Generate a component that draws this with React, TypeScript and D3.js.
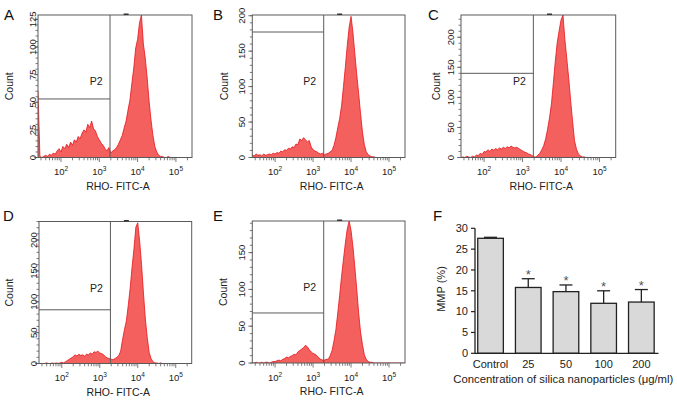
import React from 'react';
import * as d3 from 'd3';

// ---------- DATA ----------
// log10 positions of histogram bins (RHO- FITC-A)
const binLogs: number[] = d3.range(1.4, 5.4001, 0.05);

const histA = [
  60, 1, 0, 1, 2, 1, 3, 2, 4, 3,
  6, 8, 5, 10, 8, 12, 9, 14, 11, 16,
  14, 19, 17, 22, 25, 23, 30, 27, 33, 26,
  24, 19, 16, 13, 11, 8, 6, 9, 4, 6,
  7, 9, 12, 16, 20, 27, 33, 43, 52, 67,
  81, 99, 107, 122, 129, 103, 90, 72, 51, 34,
  20, 10, 5, 2, 1, 1, 0, 0, 1, 0,
  0, 0, 0, 0, 0, 0, 0, 0, 0, 0,
  0,
];
const histB = [
  4, 2, 5, 3, 4, 2, 5, 3, 4, 5,
  4, 6, 5, 7, 6, 9, 8, 11, 10, 13,
  12, 15, 14, 19, 18, 26, 24, 28, 25, 22,
  24, 15, 11, 9, 8, 6, 5, 6, 4, 5,
  6, 8, 10, 17, 28, 42, 55, 73, 100, 128,
  158, 184, 199, 176, 146, 117, 90, 62, 36, 18,
  8, 4, 2, 1, 1, 0, 0, 0, 0, 0,
  0, 0, 0, 0, 0, 0, 0, 0, 0, 0,
  0,
];
const histC = [
  0, 1, 0, 2, 1, 0, 2, 1, 4, 3,
  7, 5, 10, 9, 13, 10, 14, 12, 15, 13,
  16, 14, 17, 15, 18, 16, 19, 17, 16, 17,
  15, 13, 11, 9, 8, 6, 5, 3, 1, 1,
  4, 7, 13, 20, 31, 47, 66, 89, 124, 160,
  191, 211, 229, 237, 196, 164, 131, 94, 60, 28,
  14, 6, 3, 1, 1, 0, 0, 0, 0, 0,
  0, 0, 0, 0, 0, 0, 0, 0, 0, 0,
  0,
];
const histD = [
  0, 0, 0, 0, 1, 0, 0, 1, 0, 1,
  0, 1, 2, 1, 3, 5, 7, 9, 11, 14,
  12, 15, 13, 14, 12, 15, 14, 17, 15, 19,
  18, 20, 17, 16, 14, 11, 9, 8, 7, 6,
  8, 10, 13, 20, 39, 55, 69, 94, 122, 156,
  186, 221, 228, 198, 160, 114, 72, 42, 18, 8,
  3, 1, 1, 0, 1, 0, 0, 0, 0, 0,
  0, 0, 0, 0, 0, 0, 0, 0, 0, 0,
  0,
];
const histE = [
  0, 0, 1, 0, 0, 1, 0, 1, 1, 0,
  1, 2, 2, 3, 4, 3, 5, 6, 8, 7,
  9, 10, 12, 11, 15, 17, 19, 21, 24, 22,
  18, 15, 13, 12, 10, 7, 5, 4, 4, 5,
  5, 10, 17, 30, 45, 68, 92, 118, 141, 163,
  182, 193, 180, 158, 130, 100, 68, 42, 25, 11,
  5, 2, 1, 1, 0, 0, 0, 0, 0, 0,
  0, 0, 0, 0, 0, 0, 0, 0, 0, 0,
  0,
];

const panelLetters = ['A', 'B', 'C', 'D', 'E'];
const histograms = [histA, histB, histC, histD, histE];
const yMaxes = [129, 201, 237, 230, 193];
const yTickSteps = [25, 50, 50, 50, 50];
const gateLevels = [53, 177, 140, 87, 68];
const gateLog = 3.28;
const markLog = 3.7;
const xDecades = [2, 3, 4, 5];
const xTitle = 'RHO- FITC-A';
const yTitle = 'Count';
const gateName = 'P2';

const mmpCategories = ['Control', '25', '50', '100', '200'];
const mmpValues = [27.6, 15.8, 14.8, 12.0, 12.3];
const mmpErrors = [0.24, 2.1, 1.6, 3.0, 3.0];
const mmpSignificant = [false, true, true, true, true];
const mmpTicks = [0, 5, 10, 15, 20, 25, 30];

// ---------- LAYOUT ----------
const FONT = "'Liberation Sans', Arial, Helvetica, sans-serif";
const layouts = [
  { x0: 38, x1: 192, y0: 15, y1: 157.5, letterX: 4, letterY: 19.5, labelGap: 2.5, countX: 9.5 },
  { x0: 252.3, x1: 405, y0: 15, y1: 157.5, letterX: 213, letterY: 19.5, labelGap: 7, countX: 224 },
  { x0: 461, x1: 615.7, y0: 15, y1: 157.5, letterX: 428, letterY: 19.5, labelGap: 7.5, countX: 436 },
  { x0: 39, x1: 191.7, y0: 221.5, y1: 363.5, letterX: 3, letterY: 220.5, labelGap: 2.5, countX: 9.3 },
  { x0: 252.3, x1: 405, y0: 221, y1: 363, letterX: 213, letterY: 220.5, labelGap: 7, countX: 223 },
];

const BOX = '#5a5a5a';

function FlowPanel({ idx }: { idx: number }) {
  const L = layouts[idx];
  const counts = histograms[idx];
  const yMax = yMaxes[idx];
  const step = yTickSteps[idx];
  const x = d3.scaleLog().domain([Math.pow(10, 1.4), Math.pow(10, 5.42)]).range([L.x0, L.x1]);
  const y = d3.scaleLinear().domain([0, yMax]).range([L.y1, L.y0]);
  const pts: [number, number][] = counts.map((c, i) => [binLogs[i], c]);
  const area = d3
    .area<[number, number]>()
    .x((d) => x(Math.pow(10, d[0])))
    .y0(L.y1)
    .y1((d) => y(d[1]));
  const line = d3
    .line<[number, number]>()
    .x((d) => x(Math.pow(10, d[0])))
    .y((d) => y(d[1]));
  const xt = x.ticks().filter((v) => v >= x.domain()[0] && v <= x.domain()[1]);
  const yMajor = d3.range(0, yMax + 0.001, step);
  const yMinor = d3.range(0, yMax + 0.001, step / 5);
  const gx = x(Math.pow(10, gateLog));
  const gy = y(gateLevels[idx]);
  const mx = x(Math.pow(10, markLog));
  const clipId = `clip${idx}`;
  const cx = (L.x0 + L.x1) / 2 + 3;
  const cy = (L.y0 + L.y1) / 2;
  return (
    <g fontFamily={FONT}>
      <defs>
        <clipPath id={clipId}>
          <rect x={L.x0} y={L.y0} width={L.x1 - L.x0} height={L.y1 - L.y0} />
        </clipPath>
      </defs>
      <g clipPath={`url(#${clipId})`}>
        <path d={area(pts) || ''} fill="#f4605e" />
        <path d={line(pts) || ''} fill="none" stroke="#e3141b" strokeWidth={0.8} />
      </g>
      {/* gate */}
      <line x1={gx} x2={gx} y1={L.y0} y2={L.y1} stroke={BOX} strokeWidth={1} />
      <line x1={L.x0} x2={gx} y1={gy} y2={gy} stroke={BOX} strokeWidth={1} />
      <text x={gx - 7.5} y={L.y0 + 70} textAnchor="end" fontSize={10.5} fill="#222">
        {gateName}
      </text>
      {/* frame */}
      <rect x={L.x0} y={L.y0} width={L.x1 - L.x0} height={L.y1 - L.y0} fill="none" stroke={BOX} strokeWidth={1} />
      <rect x={mx - 2.5} y={L.y0 - 1.5} width={5} height={1.5} fill="#333" />
      {/* x ticks */}
      {xt.map((v, i) => {
        const major = Math.abs(Math.log10(v) - Math.round(Math.log10(v))) < 1e-6;
        return (
          <line key={i} x1={x(v)} x2={x(v)} y1={L.y1} y2={L.y1 + (major ? 4.5 : 2.8)} stroke={BOX} strokeWidth={0.8} />
        );
      })}
      {xDecades.map((n) => (
        <text key={n} x={x(Math.pow(10, n))} y={L.y1 + 17.5} textAnchor="middle" fontSize={9.5} fill="#222">
          10
          <tspan dy={-4} fontSize={6.5}>
            {n}
          </tspan>
        </text>
      ))}
      {/* y ticks */}
      {yMinor.map((v, i) => (
        <line key={i} x1={L.x0} x2={L.x0 - 2.5} y1={y(v)} y2={y(v)} stroke={BOX} strokeWidth={0.8} />
      ))}
      {yMajor.map((v, i) => (
        <g key={i}>
          <line x1={L.x0} x2={L.x0 - 4} y1={y(v)} y2={y(v)} stroke={BOX} strokeWidth={0.8} />
          <text transform={`translate(${L.x0 - L.labelGap},${y(v)}) rotate(-90)`} textAnchor="middle" fontSize={9.5} fill="#222">
            {v}
          </text>
        </g>
      ))}
      <text x={cx} y={L.y1 + 32} textAnchor="middle" fontSize={10.5} fill="#222">
        {xTitle}
      </text>
      <text transform={`translate(${L.countX + 3.8},${cy}) rotate(-90)`} textAnchor="middle" fontSize={10.5} fill="#222">
        {yTitle}
      </text>
      <text x={L.letterX} y={L.letterY} fontSize={15} fill="#111">
        {panelLetters[idx]}
      </text>
    </g>
  );
}

function BarPanel() {
  const y = d3.scaleLinear().domain([0, 30]).range([353.3, 228.3]);
  const x = d3
    .scaleBand<string>()
    .domain(mmpCategories)
    .range([471.7, 660.2])
    .paddingInner(0.32)
    .paddingOuter(0.16);
  const bw = x.bandwidth();
  return (
    <g fontFamily={FONT}>
      <text x={433} y={220.5} fontSize={15} fill="#111">
        F
      </text>
      {mmpCategories.map((c, i) => {
        const bx = x(c) as number;
        const top = y(mmpValues[i]);
        const cap = y(mmpValues[i] + mmpErrors[i]);
        const mid = bx + bw / 2;
        return (
          <g key={c}>
            <line x1={mid} x2={mid} y1={top} y2={cap} stroke="#222" strokeWidth={1.3} />
            <line x1={mid - 6.5} x2={mid + 6.5} y1={cap} y2={cap} stroke="#222" strokeWidth={1.3} />
            <rect x={bx} y={top} width={bw} height={y(0) - top} fill="#d9d9d9" stroke="#222" strokeWidth={1.3} />
            {mmpSignificant[i] && (
              <text x={mid} y={cap} textAnchor="middle" fontSize={13} fill="#555">
                *
              </text>
            )}
            <text x={mid} y={368.3} textAnchor="middle" fontSize={11} fill="#222">
              {c}
            </text>
          </g>
        );
      })}
      <line x1={475} x2={475} y1={y(30)} y2={y(0)} stroke="#222" strokeWidth={1.3} />
      <line x1={475} x2={658.5} y1={y(0)} y2={y(0)} stroke="#222" strokeWidth={1.3} />
      {mmpTicks.map((t) => (
        <g key={t}>
          <line x1={471} x2={475} y1={y(t)} y2={y(t)} stroke="#222" strokeWidth={1.2} />
          <text x={468} y={y(t) + 3.8} textAnchor="end" fontSize={11} fill="#222">
            {t}
          </text>
        </g>
      ))}
      <text transform={`translate(445,289) rotate(-90)`} textAnchor="middle" fontSize={11} fill="#222">
        MMP (%)
      </text>
      <text x={563.3} y={382.7} textAnchor="middle" fontSize={11.3} fill="#222">
        Concentration of silica nanoparticles (μg/ml)
      </text>
    </g>
  );
}

export default function App() {
  return (
    <svg
      width={677}
      height={401}
      viewBox="0 0 677 401"
      style={{ position: 'absolute', left: 0, top: 0, background: '#fff' }}
    >
      <rect x={0} y={0} width={677} height={401} fill="#fff" />
      {[0, 1, 2, 3, 4].map((i) => (
        <FlowPanel key={i} idx={i} />
      ))}
      <BarPanel />
    </svg>
  );
}
